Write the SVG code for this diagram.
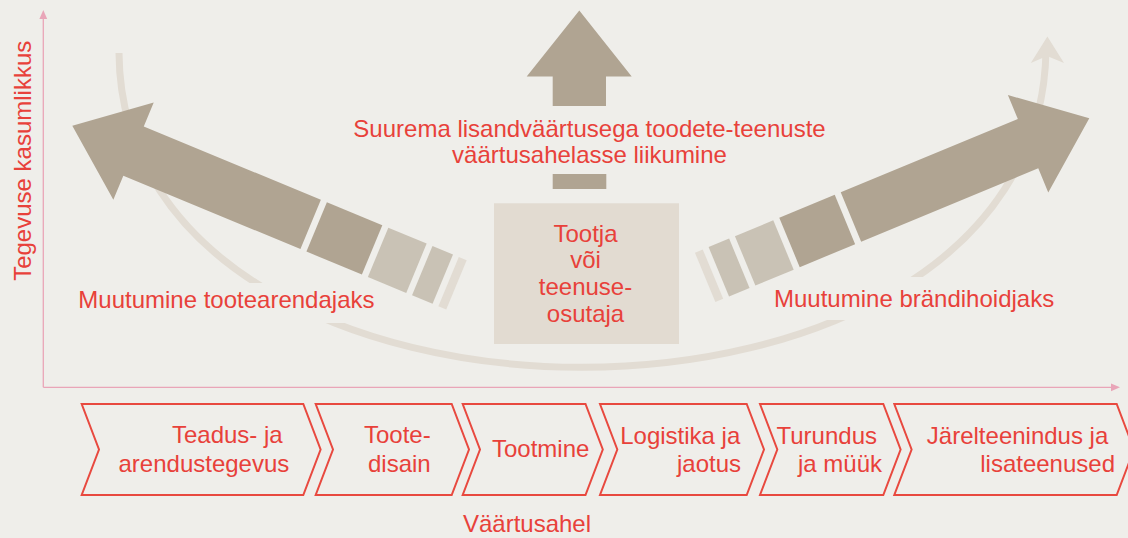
<svg xmlns="http://www.w3.org/2000/svg" width="1128" height="538" viewBox="0 0 1128 538">
  <defs>
    <style>
      .t { font-family: "Liberation Sans", Arial, sans-serif; fill: #e8413a; font-size: 24px; }
      .ax { stroke: #e9a5b8; stroke-width: 1.3; fill: none; }
      .axh { fill: #e9a5b8; }
      .chev { fill: none; stroke: #e8493f; stroke-width: 2; stroke-linejoin: miter; }
      .dark { fill: #b0a492; }
      .light { fill: #c9c2b5; }
      .lightest { fill: #e2dcd3; }
      .bg { fill: #efeeea; }
    </style>
    <g id="bigArrow">
      <polygon class="dark" points="0,0 66.3,-52.7 66.3,-26.7 258,-26.7 258,26.7 66.3,26.7 66.3,52.8"/>
      <rect class="dark" x="264.5" y="-26.7" width="60" height="53.4"/>
      <rect class="light" x="331" y="-26.7" width="41.5" height="53.4"/>
      <rect class="light" x="378.8" y="-26.7" width="22.2" height="53.4"/>
      <rect class="lightest" x="407.3" y="-26.7" width="8.5" height="53.4"/>
    </g>
  </defs>

  <rect x="0" y="0" width="1128" height="538" fill="#efeeea"/>

  <!-- axes -->
  <g id="axes">
    <line class="ax" x1="43.3" y1="387.3" x2="43.3" y2="17"/>
    <polygon class="axh" points="43.3,10 47.2,19 39.4,19"/>
    <line class="ax" x1="43.3" y1="387.3" x2="1113" y2="387.3"/>
    <polygon class="axh" points="1120,387.3 1111,383.4 1111,391.2"/>
    <text class="t" font-size="23.3" text-anchor="middle" transform="translate(31,160.8) rotate(-90)">Tegevuse kasumlikkus</text>
  </g>

  <!-- connectors: curve -->
  <g id="connectors">
    <path d="M119,53 C122,470 1040,475 1046,50" fill="none" stroke="#e2dcd3" stroke-width="7"/>
    <polygon class="lightest" points="1047.4,36.5 1064,63 1047,56 1030.8,63"/>
  </g>

  <!-- label backgrounds -->
  <rect class="bg" x="75" y="283" width="332" height="40"/>
  <rect class="bg" x="739" y="277" width="321" height="43"/>

  <!-- arrows -->
  <g id="arrow-left">
    <use href="#bigArrow" transform="translate(72.3,125.7) rotate(22.5)"/>
  </g>
  <g id="arrow-right">
    <use href="#bigArrow" transform="translate(1089.3,118.3) scale(-1,1) rotate(22.5)"/>
  </g>
  <g id="arrow-up">
    <polygon class="dark" points="579.3,10.5 631.7,76.5 606,76.5 606,106 552.7,106 552.7,76.5 526.7,76.5"/>
    <rect class="dark" x="552.7" y="174" width="53.6" height="15"/>
  </g>

  <g id="label-up">
    <text class="t" font-size="24.4" text-anchor="middle" x="589.5" y="136.7">Suurema lisandväärtusega toodete-teenuste</text>
    <text class="t" font-size="24.4" text-anchor="middle" x="589.5" y="163.3">väärtusahelasse liikumine</text>
  </g>

  <g id="label-left">
    <text class="t" font-size="24.3" x="78.3" y="308.3">Muutumine tootearendajaks</text>
  </g>
  <g id="label-right">
    <text class="t" font-size="24.3" x="774" y="306.7">Muutumine brändihoidjaks</text>
  </g>

  <g id="node-tootja">
    <rect x="494" y="203.3" width="185" height="140.7" fill="#e2dbd1"/>
    <text class="t" font-size="23.5" text-anchor="middle" x="585.5" y="241.7">Tootja</text>
    <text class="t" font-size="23.5" text-anchor="middle" x="585.5" y="268.3">või</text>
    <text class="t" font-size="23.5" text-anchor="middle" x="585.5" y="295">teenuse-</text>
    <text class="t" font-size="23.5" text-anchor="middle" x="585.5" y="321.7">osutaja</text>
  </g>

  <!-- value chain -->
  <g id="chain-1">
    <path class="chev" d="M81.7,404 H303.3 L320.6,449.5 L303.3,495 H81.7 L99,449.5 Z"/>
    <text class="t" text-anchor="end" x="282.7" y="443.3">Teadus- ja</text>
    <text class="t" text-anchor="end" x="289.3" y="471.7">arendustegevus</text>
  </g>
  <g id="chain-2">
    <path class="chev" d="M315.7,404 H451.7 L469,449.5 L451.7,495 H315.7 L333,449.5 Z"/>
    <text class="t" text-anchor="end" x="430.7" y="443.3">Toote-</text>
    <text class="t" text-anchor="end" x="430.7" y="471.7">disain</text>
  </g>
  <g id="chain-3">
    <path class="chev" d="M462.7,404 H585.5 L602.8,449.5 L585.5,495 H462.7 L480,449.5 Z"/>
    <text class="t" text-anchor="end" x="589.4" y="456.7">Tootmine</text>
  </g>
  <g id="chain-4">
    <path class="chev" d="M600,404 H746.7 L764,449.5 L746.7,495 H600 L617.3,449.5 Z"/>
    <text class="t" text-anchor="end" x="740.3" y="444">Logistika ja</text>
    <text class="t" text-anchor="end" x="741" y="471.7">jaotus</text>
  </g>
  <g id="chain-5">
    <path class="chev" d="M760,404 H883.3 L900.6,449.5 L883.3,495 H760 L777.3,449.5 Z"/>
    <text class="t" text-anchor="end" x="877" y="444">Turundus</text>
    <text class="t" text-anchor="end" x="882" y="471.7">ja müük</text>
  </g>
  <g id="chain-6">
    <path class="chev" d="M894.3,404 H1116.7 L1134,449.5 L1116.7,495 H894.3 L911.6,449.5 Z"/>
    <text class="t" text-anchor="end" x="1108.3" y="444">Järelteenindus ja</text>
    <text class="t" text-anchor="end" x="1115" y="471.7">lisateenused</text>
  </g>

  <text class="t" text-anchor="middle" x="527" y="531.7">Väärtusahel</text>
</svg>
